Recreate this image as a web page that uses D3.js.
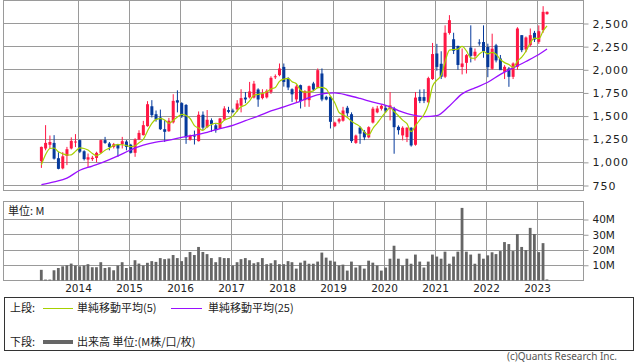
<!DOCTYPE html>
<html>
<head>
<meta charset="utf-8">
<script src="https://cdn.jsdelivr.net/npm/d3@7"></script>
<style>
  body { margin: 0; background: #fff; }
  svg text { font-family: "DejaVu Sans", sans-serif; fill: #222; }
  svg .jp { font-family: "Noto Sans CJK JP", sans-serif; }
</style>
</head>
<body>
<svg width="638" height="362"></svg>
<script>
// monthly candles, Apr 2013 .. Mar 2023
const opens = [
  1013, 1150, 1190, 1210, 1045, 935, 1070, 1150, 1215,
  1240, 1120, 1030, 1035, 1048, 1103, 1240, 1204, 1167, 1196, 1196, 1225,
  1190, 1103, 1247, 1294, 1391, 1606, 1520, 1485, 1358, 1336, 1432, 1671,
  1640, 1620, 1243, 1290, 1229, 1514, 1380, 1455, 1400, 1366, 1463, 1564,
  1560, 1571, 1612, 1700, 1702, 1700, 1787, 1694, 1702, 1761, 1925, 1942,
  2031, 1906, 1790, 1680, 1834, 1672, 1672, 1852, 1809, 1960, 1708, 1708,
  1391, 1441, 1450, 1590, 1520, 1210, 1375, 1330, 1270, 1430, 1540, 1579,
  1586, 1579, 1580, 1384, 1291, 1273, 1374, 1190, 1707, 1705, 1649, 1900,
  2176, 2065, 1925, 2398, 2330, 2258, 2031, 2075, 2240, 2150, 2295, 2300,
  2246, 2011, 2264, 2122, 1978, 2014, 1924, 2032, 2374, 2220, 2266, 2399,
  2302, 2428, 2601
];
const highs = [
  1170, 1402, 1290, 1294, 1110, 1110, 1167, 1270, 1305,
  1245, 1130, 1095, 1070, 1115, 1245, 1275, 1220, 1210, 1200, 1275, 1240,
  1200, 1260, 1347, 1448, 1661, 1672, 1560, 1570, 1456, 1480, 1736, 1778,
  1650, 1630, 1300, 1343, 1550, 1550, 1565, 1475, 1420, 1480, 1607, 1600,
  1580, 1672, 1790, 1760, 1869, 1880, 1800, 1790, 1790, 1930, 1950, 2068,
  2068, 1920, 1800, 1840, 1840, 1780, 1830, 1870, 2014, 2014, 1720, 1710,
  1440, 1480, 1600, 1610, 1540, 1300, 1390, 1350, 1390, 1600, 1610, 1625,
  1620, 1759, 1600, 1400, 1390, 1380, 1380, 1760, 1787, 1790, 1925, 2290,
  2280, 2200, 2480, 2590, 2400, 2260, 2230, 2170, 2480, 2230, 2330, 2480,
  2282, 2390, 2280, 2160, 2050, 2030, 2080, 2460, 2374, 2360, 2446, 2420,
  2480, 2687, 2630
];
const lows = [
  940, 1130, 1150, 1030, 925, 925, 970, 1140, 1165,
  1100, 1020, 950, 1015, 1000, 1100, 1200, 1130, 1150, 1060, 1150, 1130,
  1095, 1060, 1240, 1290, 1385, 1485, 1440, 1350, 1220, 1330, 1420, 1540,
  1480, 1200, 1235, 1193, 1225, 1350, 1370, 1330, 1320, 1360, 1455, 1530,
  1530, 1546, 1540, 1640, 1690, 1690, 1600, 1680, 1690, 1740, 1900, 1930,
  1818, 1780, 1653, 1650, 1582, 1600, 1600, 1770, 1800, 1660, 1670, 1366,
  1380, 1420, 1440, 1500, 1210, 1200, 1200, 1240, 1260, 1420, 1530, 1560,
  1540, 1453, 1093, 1300, 1237, 1219, 1170, 1180, 1640, 1640, 1640, 1890,
  1990, 1900, 1910, 2380, 2170, 2000, 1950, 1960, 2080, 2100, 2260, 2130,
  1920, 2000, 2080, 2000, 1900, 1816, 1900, 2000, 2190, 2190, 2250, 2300,
  2280, 2400, 2595
];
const closes = [
  1167, 1210, 1220, 1040, 930, 1065, 1142, 1232, 1225,
  1115, 1035, 1055, 1050, 1103, 1240, 1210, 1167, 1196, 1150, 1229, 1167,
  1103, 1247, 1318, 1402, 1628, 1510, 1463, 1358, 1330, 1450, 1664, 1646,
  1500, 1270, 1289, 1280, 1514, 1375, 1460, 1415, 1348, 1474, 1582, 1546,
  1545, 1636, 1694, 1680, 1766, 1850, 1679, 1745, 1773, 1913, 1930, 2014,
  1869, 1809, 1735, 1820, 1661, 1769, 1823, 1787, 1996, 1679, 1679, 1438,
  1430, 1466, 1560, 1530, 1230, 1290, 1310, 1270, 1380, 1580, 1582, 1611,
  1561, 1615, 1380, 1348, 1374, 1374, 1183, 1700, 1664, 1665, 1910, 2170,
  2031, 1925, 2400, 2536, 2205, 2052, 2068, 2158, 2150, 2195, 2285, 2200,
  2029, 2228, 2101, 1996, 2032, 1924, 2068, 2446, 2212, 2349, 2374, 2327,
  2417, 2626, 2626
];
// volume, millions
const volumes = [
  7.0, 0.6, 0.6, 6.7, 8.2, 9.3, 10.0, 11.1, 9.8,
  9.3, 9.8, 10.7, 8.7, 8.7, 12.0, 8.2, 8.7, 6.7, 9.8, 12.0, 8.2,
  8.9, 13.3, 11.1, 9.8, 11.6, 12.7, 12.2, 14.7, 14.0, 14.4, 16.7, 14.7,
  12.7, 15.3, 18.7, 16.7, 22.0, 18.7, 17.3, 14.7, 12.0, 15.3, 14.7, 14.7,
  9.8, 12.0, 14.0, 14.7, 13.3, 11.3, 12.0, 14.7, 10.7, 11.3, 13.3, 10.7,
  10.7, 12.7, 12.0, 7.8, 11.7, 13.0, 11.0, 11.0, 12.4, 18.3, 15.0, 13.0,
  12.4, 9.8, 10.4, 6.5, 12.4, 8.5, 9.8, 7.8, 13.0, 11.7, 9.8, 6.5,
  8.5, 14.3, 22.8, 14.3, 9.8, 14.3, 11.0, 17.0, 12.4, 8.5, 12.4, 17.0,
  15.7, 14.3, 18.9, 11.0, 15.7, 18.9, 47.6, 18.9, 17.0, 11.0, 17.6, 14.3,
  16.5, 18.5, 17.3, 19.3, 25.2, 23.9, 19.3, 30.5, 22.0, 20.0, 34.5, 30.5,
  18.6, 24.5, 0.7
];
// first MA5 points (window starts before the chart)
const ma5Head = [973, 1085, 1150, 1155];
// MA25 at every third month
const ma25Idx = [0, 3, 6, 9, 12, 15, 18, 21, 24, 27, 30, 33, 36, 39, 42, 45, 48, 51, 54, 57,
  60, 63, 66, 69, 72, 75, 78, 81, 84, 87, 90, 93, 96, 99, 102, 105, 108, 111, 114, 117, 119];
const ma25Values = [760, 790, 830, 915, 960, 1010, 1070, 1135, 1185, 1218, 1240, 1270, 1295, 1325,
  1365, 1400, 1450, 1500, 1555, 1600, 1645, 1700, 1740, 1750, 1725, 1690, 1650, 1615, 1560, 1515,
  1495, 1505, 1610, 1740, 1805, 1865, 1950, 2020, 2090, 2165, 2225];

const priceTicks = [750, 1000, 1250, 1500, 1750, 2000, 2250, 2500];
const volumeTicks = [10, 20, 30, 40];
const yearTicks = d3.range(2014, 2024);

const months = d3.timeMonth.range(new Date(2013, 3, 1), new Date(2023, 3, 1));

const svg = d3.select('svg');

const left = 3.5, right = 583.5;
const top1 = 0.5, bottom1 = 190.5;
const top2 = 201.5, bottom2 = 280.5;
const barW = 3;

const x = d3.scaleTime()
  .domain([new Date(2014, 0, 1), new Date(2023, 0, 1)])
  .range([78.3, 537.3]);

const yPrice = d3.scaleLinear()
  .domain([750, 2500])
  .range([185.5, 23.5]);

const yVol = d3.scaleLinear()
  .domain([0, 40])
  .range([280.5, 219.5]);

const gx = (y) => Math.round(x(new Date(y, 0, 1))) + 0.5;
const grid = '#9a9a9a';

// panels
const drawPanel = (t, b, yScale, ticks) => {
  const g = svg.append('g');
  g.selectAll('.h')
    .data(ticks)
    .enter()
    .append('line')
    .attr('x1', left).attr('x2', right)
    .attr('y1', (d) => Math.round(yScale(d) - 0.5) + 0.5)
    .attr('y2', (d) => Math.round(yScale(d) - 0.5) + 0.5)
    .attr('stroke', grid);
  g.selectAll('.v')
    .data(yearTicks)
    .enter()
    .append('line')
    .attr('x1', gx).attr('x2', gx)
    .attr('y1', t).attr('y2', b)
    .attr('stroke', grid);
  g.append('rect')
    .attr('x', left).attr('y', t)
    .attr('width', right - left).attr('height', b - t)
    .attr('fill', 'none')
    .attr('stroke', grid);
};
drawPanel(top1, bottom1, yPrice, priceTicks);
drawPanel(top2, bottom2, yVol, volumeTicks);

// axes
const priceAxis = svg.append('g')
  .attr('transform', `translate(${right}, 0)`)
  .call(d3.axisRight(yPrice).tickValues(priceTicks).tickSize(5).tickPadding(4)
    .tickFormat(d3.format(',')));
const volAxis = svg.append('g')
  .attr('transform', `translate(${right}, 0)`)
  .call(d3.axisRight(yVol).tickValues(volumeTicks).tickSize(5).tickPadding(4)
    .tickFormat((d) => d + 'M'));
[priceAxis, volAxis].forEach((a) => {
  a.select('.domain').remove();
  a.selectAll('line').attr('stroke', grid);
  a.selectAll('text')
    .style('font-family', '"DejaVu Sans", sans-serif')
    .attr('fill', '#222');
});
priceAxis.selectAll('text').style('font-size', '11px').style('letter-spacing', '1px');
volAxis.selectAll('text').style('font-size', '10.5px');

svg.append('g')
  .selectAll('text')
  .data(yearTicks)
  .enter()
  .append('text')
  .attr('x', gx)
  .attr('y', 292)
  .attr('text-anchor', 'middle')
  .style('font-size', '10.5px')
  .text((d) => d);

// candles
const candles = svg.append('g')
  .selectAll('g')
  .data(months)
  .enter()
  .append('g');

const up = (i) => closes[i] >= opens[i];
const cx = (d) => x(d) + barW / 2;

candles.append('line')
  .attr('x1', cx).attr('x2', cx)
  .attr('y1', (d, i) => yPrice(highs[i]))
  .attr('y2', (d, i) => yPrice(lows[i]))
  .attr('stroke', (d, i) => up(i) ? '#ff1744' : '#063a9c')
  .attr('stroke-width', 1);

candles.append('rect')
  .attr('x', (d) => x(d))
  .attr('width', barW)
  .attr('y', (d, i) => yPrice(Math.max(opens[i], closes[i])))
  .attr('height', (d, i) => Math.max(1, Math.abs(yPrice(opens[i]) - yPrice(closes[i]))))
  .attr('fill', (d, i) => up(i) ? '#ff1744' : '#063a9c');

// moving averages
const ma5 = closes.map((c, i) => i < 4 ? ma5Head[i] : d3.mean(closes.slice(i - 4, i + 1)));

const line = d3.line()
  .x((d) => cx(d[0]))
  .y((d) => yPrice(d[1]))
  .curve(d3.curveMonotoneX);

svg.append('path')
  .datum(ma25Idx.map((m, k) => [months[m], ma25Values[k]]))
  .attr('d', line)
  .attr('fill', 'none')
  .attr('stroke', '#9a10ff')
  .attr('stroke-width', 1.3);

svg.append('path')
  .datum(months.map((m, i) => [m, ma5[i]]))
  .attr('d', line)
  .attr('fill', 'none')
  .attr('stroke', '#a6d000')
  .attr('stroke-width', 1.2);

// volume
svg.append('g')
  .selectAll('rect')
  .data(months)
  .enter()
  .append('rect')
  .attr('x', (d) => x(d))
  .attr('width', 2.8)
  .attr('y', (d, i) => yVol(volumes[i]))
  .attr('height', (d, i) => yVol(0) - yVol(volumes[i]))
  .attr('fill', '#666');

svg.append('text')
  .attr('class', 'jp')
  .attr('x', 8)
  .attr('y', 215)
  .style('font-size', '11px')
  .text('単位: M');

// legend
svg.append('rect')
  .attr('x', 4.5).attr('y', 297.5)
  .attr('width', 629).attr('height', 53)
  .attr('fill', 'none')
  .attr('stroke', '#333');

const legend = svg.append('g').style('font-size', '11px');
legend.append('text').attr('class', 'jp').attr('x', 10).attr('y', 312).text('上段:');
legend.append('line').attr('x1', 43).attr('x2', 73).attr('y1', 308.5).attr('y2', 308.5)
  .attr('stroke', '#a6d000');
legend.append('text').attr('class', 'jp').attr('x', 77).attr('y', 312).text('単純移動平均(5)');
legend.append('line').attr('x1', 171).attr('x2', 202).attr('y1', 308.5).attr('y2', 308.5)
  .attr('stroke', '#9a10ff');
legend.append('text').attr('class', 'jp').attr('x', 208).attr('y', 312).text('単純移動平均(25)');
legend.append('text').attr('class', 'jp').attr('x', 10).attr('y', 346).text('下段:');
legend.append('line').attr('x1', 43).attr('x2', 73).attr('y1', 342).attr('y2', 342)
  .attr('stroke', '#666').attr('stroke-width', 4);
legend.append('text').attr('class', 'jp').attr('x', 77).attr('y', 346).text('出来高 単位:(M株/口/枚)');

svg.append('text')
  .attr('x', 617)
  .attr('y', 360)
  .attr('text-anchor', 'end')
  .style('font-family', '"Noto Sans", sans-serif')
  .style('font-size', '10px')
  .style('fill', '#555')
  .text('(c)Quants Research Inc.');
</script>
</body>
</html>
